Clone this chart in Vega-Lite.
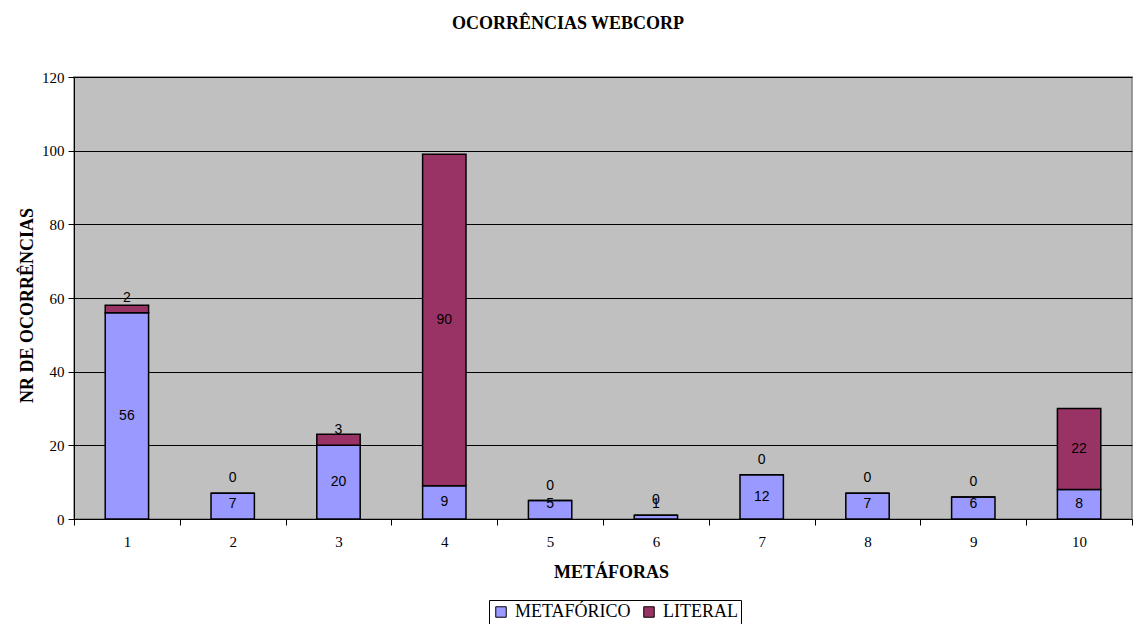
{
  "$schema": "https://vega.github.io/schema/vega-lite/v6.json",
  "width": 1058,
  "height": 442,
  "autosize": {"type": "none"},
  "padding": {"left": 74, "top": 77, "right": 1, "bottom": 105},
  "background": "white",
  "config": {
    "view": {"fill": "#C0C0C0", "stroke": "#808080", "strokeWidth": 1.5},
    "font": "Liberation Serif"
  },
  "title": {
    "text": "OCORRÊNCIAS WEBCORP",
    "font": "Liberation Serif",
    "fontSize": 18,
    "fontWeight": "bold",
    "color": "black",
    "frame": "group",
    "anchor": "middle",
    "baseline": "alphabetic",
    "offset": 23,
    "dx": -35
  },
  "data": {
    "values": [
      {"metafora": 1, "tipo": "METAFÓRICO", "valor": 56},
      {"metafora": 1, "tipo": "LITERAL", "valor": 2},
      {"metafora": 2, "tipo": "METAFÓRICO", "valor": 7},
      {"metafora": 2, "tipo": "LITERAL", "valor": 0},
      {"metafora": 3, "tipo": "METAFÓRICO", "valor": 20},
      {"metafora": 3, "tipo": "LITERAL", "valor": 3},
      {"metafora": 4, "tipo": "METAFÓRICO", "valor": 9},
      {"metafora": 4, "tipo": "LITERAL", "valor": 90},
      {"metafora": 5, "tipo": "METAFÓRICO", "valor": 5},
      {"metafora": 5, "tipo": "LITERAL", "valor": 0},
      {"metafora": 6, "tipo": "METAFÓRICO", "valor": 1},
      {"metafora": 6, "tipo": "LITERAL", "valor": 0},
      {"metafora": 7, "tipo": "METAFÓRICO", "valor": 12},
      {"metafora": 7, "tipo": "LITERAL", "valor": 0},
      {"metafora": 8, "tipo": "METAFÓRICO", "valor": 7},
      {"metafora": 8, "tipo": "LITERAL", "valor": 0},
      {"metafora": 9, "tipo": "METAFÓRICO", "valor": 6},
      {"metafora": 9, "tipo": "LITERAL", "valor": 0},
      {"metafora": 10, "tipo": "METAFÓRICO", "valor": 8},
      {"metafora": 10, "tipo": "LITERAL", "valor": 22}
    ]
  },
  "transform": [
    {"stack": "valor", "groupby": ["metafora"], "sort": [{"field": "tipo", "order": "descending"}], "as": ["v0", "v1"]},
    {"calculate": "max((datum.v0 + datum.v1) / 2, datum.v0 + 4.07)", "as": "rotulo_y"}
  ],
  "layer": [
    {
      "mark": {"type": "bar", "width": {"band": 0.41}, "stroke": "black", "strokeWidth": 1.5},
      "encoding": {
        "x": {
          "field": "metafora",
          "type": "ordinal",
          "title": "METÁFORAS",
          "scale": {"paddingInner": 0, "paddingOuter": 0},
          "axis": {
            "labelAngle": 0,
            "grid": false,
            "tickBand": "extent",
            "tickSize": 6,
            "tickColor": "black",
            "domainColor": "black",
            "domainWidth": 1,
            "labelFont": "Liberation Serif",
            "labelFontSize": 15,
            "labelColor": "black",
            "labelBaseline": "alphabetic",
            "labelPadding": 21,
            "titleFont": "Liberation Serif",
            "titleFontSize": 18,
            "titleFontWeight": "bold",
            "titleColor": "black",
            "titleX": 537,
            "titleY": 58,
            "titleBaseline": "alphabetic",
            "titleAlign": "center"
          }
        },
        "y": {
          "field": "v0",
          "type": "quantitative",
          "title": "NR DE OCORRÊNCIAS",
          "scale": {"domain": [0, 120], "nice": false},
          "axis": {
            "values": [0, 20, 40, 60, 80, 100, 120],
            "grid": true,
            "gridColor": "black",
            "gridWidth": 1,
            "gridOpacity": 1,
            "domainColor": "black",
            "domainWidth": 1,
            "tickColor": "black",
            "tickSize": 6,
            "labelFont": "Liberation Serif",
            "labelFontSize": 15,
            "labelColor": "black",
            "labelPadding": 4,
            "titleFont": "Liberation Serif",
            "titleFontSize": 18,
            "titleFontWeight": "bold",
            "titleColor": "black",
            "titleX": -42,
            "titleY": 228,
            "titleAngle": -90,
            "titleBaseline": "alphabetic",
            "titleAlign": "center"
          }
        },
        "y2": {"field": "v1"},
        "color": {
          "field": "tipo",
          "type": "nominal",
          "scale": {"domain": ["METAFÓRICO", "LITERAL"], "range": ["#9999FF", "#993366"]},
          "legend": {
            "title": null,
            "orient": "none",
            "direction": "horizontal",
            "legendX": 415,
            "legendY": 523,
            "symbolType": "square",
            "symbolSize": 110,
            "symbolStrokeColor": "black",
            "symbolStrokeWidth": 1,
            "symbolOpacity": 1,
            "labelFont": "Liberation Serif",
            "labelFontSize": 18,
            "labelColor": "black",
            "labelOffset": 5,
            "columnPadding": 9,
            "padding": 3,
            "strokeColor": "black",
            "fillColor": "white"
          }
        }
      }
    },
    {
      "mark": {"type": "text", "font": "Liberation Sans", "fontSize": 14, "baseline": "middle", "color": "black"},
      "encoding": {
        "x": {"field": "metafora", "type": "ordinal", "title": "METÁFORAS"},
        "y": {"field": "rotulo_y", "type": "quantitative", "title": "NR DE OCORRÊNCIAS"},
        "text": {"field": "valor", "type": "quantitative"}
      }
    }
  ]
}
